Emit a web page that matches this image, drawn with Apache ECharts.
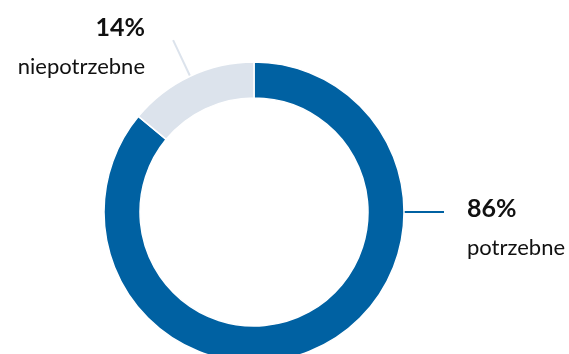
<!DOCTYPE html>
<html>
<head>
<meta charset="utf-8">
<style>
  html, body { margin: 0; padding: 0; background: #fff; }
  #chart { width: 569px; height: 354px; }
</style>
<script src="https://cdn.jsdelivr.net/npm/echarts@6/dist/echarts.min.js"></script>
</head>
<body>
<div id="chart"></div>
<script>
// Share of responses
const categories = ['potrzebne', 'niepotrzebne'];
const values = [86, 14];
const colors = ['#0061a2', '#dce3ec'];

// Ring geometry (px)
const CX = 254, CY = 212, R_IN = 114, R_OUT = 150;
const LINE_LEN = 40;

const total = values.reduce((a, b) => a + b, 0);

// Mid angle of a slice, clockwise from 12 o'clock, in radians
function midAngle(i) {
  let before = 0;
  for (let k = 0; k < i; k++) before += values[k];
  return ((before + values[i] / 2) / total) * Math.PI * 2;
}

const chart = echarts.init(document.getElementById('chart'), null, { renderer: 'canvas' });

const rich = {
  pct: { fontFamily: 'Lato', fontWeight: 'bold', fontSize: 25, color: '#111', lineHeight: 28 },
  name: { fontFamily: 'Lato', fontSize: 22, color: '#111', lineHeight: 50 }
};

chart.setOption({
  animation: false,
  series: [{
    type: 'pie',
    center: [CX, CY],
    radius: [R_IN, R_OUT],
    startAngle: 90,
    clockwise: true,
    silent: true,
    itemStyle: { borderColor: '#fff', borderWidth: 1.5 },
    label: {
      show: true,
      position: 'outside',
      formatter: p => `{pct|${values[p.dataIndex]}%}\n{name|${p.name}}`,
      rich: rich
    },
    labelLine: { show: true, length: 20, length2: 0, lineStyle: { width: 2 } },
    labelLayout: function (params) {
      const i = params.dataIndex;
      if (i === 0) {
        // leader runs straight out to the right from 3 o'clock
        const x0 = CX + R_OUT, x1 = x0 + LINE_LEN;
        return {
          x: x1 + 23, y: CY - 17,
          align: 'left', verticalAlign: 'top',
          labelLinePoints: [[x0, CY], [x1, CY], [x1, CY]]
        };
      }
      const a = midAngle(i);
      const p0 = [CX + R_OUT * Math.sin(a), CY - R_OUT * Math.cos(a)];
      const p1 = [CX + (R_OUT + LINE_LEN) * Math.sin(a), CY - (R_OUT + LINE_LEN) * Math.cos(a)];
      return {
        x: 145, y: 14,
        align: 'right', verticalAlign: 'top',
        labelLinePoints: [p0, p1, p1]
      };
    },
    data: categories.map((c, i) => ({
      name: c,
      value: values[i],
      itemStyle: { color: colors[i] },
      label: i === 1 ? { align: 'right' } : { align: 'left' }
    }))
  }]
});
</script>
</body>
</html>
